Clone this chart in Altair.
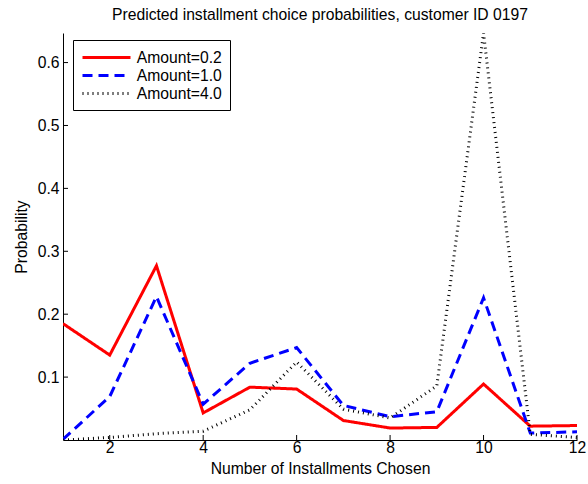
import altair as alt
import pandas as pd

installments = list(range(1, 13))
p_amount_02 = [0.185, 0.135, 0.277, 0.043, 0.084, 0.081, 0.031, 0.019, 0.020, 0.089, 0.022, 0.023]
p_amount_10 = [0.001, 0.069, 0.228, 0.057, 0.122, 0.147, 0.055, 0.037, 0.045, 0.226, 0.011, 0.013]
p_amount_40 = [0.000, 0.004, 0.010, 0.014, 0.048, 0.124, 0.049, 0.035, 0.086, 0.647, 0.009, 0.004]
series_names = ["Amount=0.2", "Amount=1.0", "Amount=4.0"]
x_ticks = [2, 4, 6, 8, 10, 12]
y_ticks = [0.1, 0.2, 0.3, 0.4, 0.5, 0.6]

rows = []
for name, vals in zip(series_names, [p_amount_02, p_amount_10, p_amount_40]):
    for n, v in zip(installments, vals):
        rows.append({"n": n, "p": v, "series": name})
df = pd.DataFrame(rows)

FONT = "Liberation Sans"
FS = 15.7
xscale = alt.Scale(domain=[1, 12], nice=False, zero=False)
yscale = alt.Scale(domain=[0, 0.647], nice=False, zero=False)

lines = alt.Chart(df).mark_line(clip=True).encode(
    x=alt.X("n:Q", scale=xscale,
            axis=alt.Axis(values=x_ticks, title="Number of Installments Chosen", ticks=False,
                          grid=False, labelPadding=0, titlePadding=7, format="d",
                          labelFlush=False)),
    y=alt.Y("p:Q", scale=yscale,
            axis=alt.Axis(values=y_ticks, title="Probability", ticks=False, grid=False,
                          labelPadding=4, titlePadding=8, format=".1f", labelFlush=False)),
    color=alt.Color("series:N", scale=alt.Scale(domain=series_names, range=["#ff0000", "#0000ff", "#000000"]),
                    legend=alt.Legend(title=None, orient="none", legendX=10, legendY=7,
                                      symbolType="M-3,0H3", symbolSize=256, labelFontSize=FS,
                                      labelFont=FONT, strokeColor="black", fillColor="white",
                                      padding=8, rowPadding=-0.5, cornerRadius=0,
                                      symbolOffset=16, labelOffset=20.7,
                                      labelColor="black")),
    strokeDash=alt.StrokeDash("series:N", scale=alt.Scale(domain=series_names, range=[[1, 0], [10, 6], [1, 4]])),
    strokeWidth=alt.StrokeWidth("series:N", scale=alt.Scale(domain=series_names, range=[3, 3, 1])),
    order=alt.Order("series:N"),
)

xt = pd.DataFrame({"t": x_ticks})
yt = pd.DataFrame({"t": y_ticks})
xticks = alt.Chart(xt).mark_rule(color="black", strokeWidth=1).encode(
    x=alt.X("t:Q", scale=xscale), y=alt.value(407), y2=alt.value(402))
yticks = alt.Chart(yt).mark_rule(color="black", strokeWidth=1).encode(
    y=alt.Y("t:Q", scale=yscale), x=alt.value(0), x2=alt.value(5))

chart = alt.layer(lines, xticks, yticks).properties(
    width=514, height=407,
    title=alt.TitleParams("Predicted installment choice probabilities, customer ID 0197",
                          font=FONT, fontSize=FS, fontWeight="normal", color="black", offset=9),
    padding={"left": 63, "top": 33, "right": 11, "bottom": 44},
    autosize=alt.AutoSizeParams(type="none"),
    background="white",
).configure_view(stroke=None).configure_axis(
    labelFont=FONT, titleFont=FONT, labelFontSize=FS, titleFontSize=FS, labelColor="black",
    titleColor="black", titleFontWeight="normal", domainColor="black", domainWidth=1,
)

chart.save("out.html", embed_options={"renderer": "svg", "actions": False})
